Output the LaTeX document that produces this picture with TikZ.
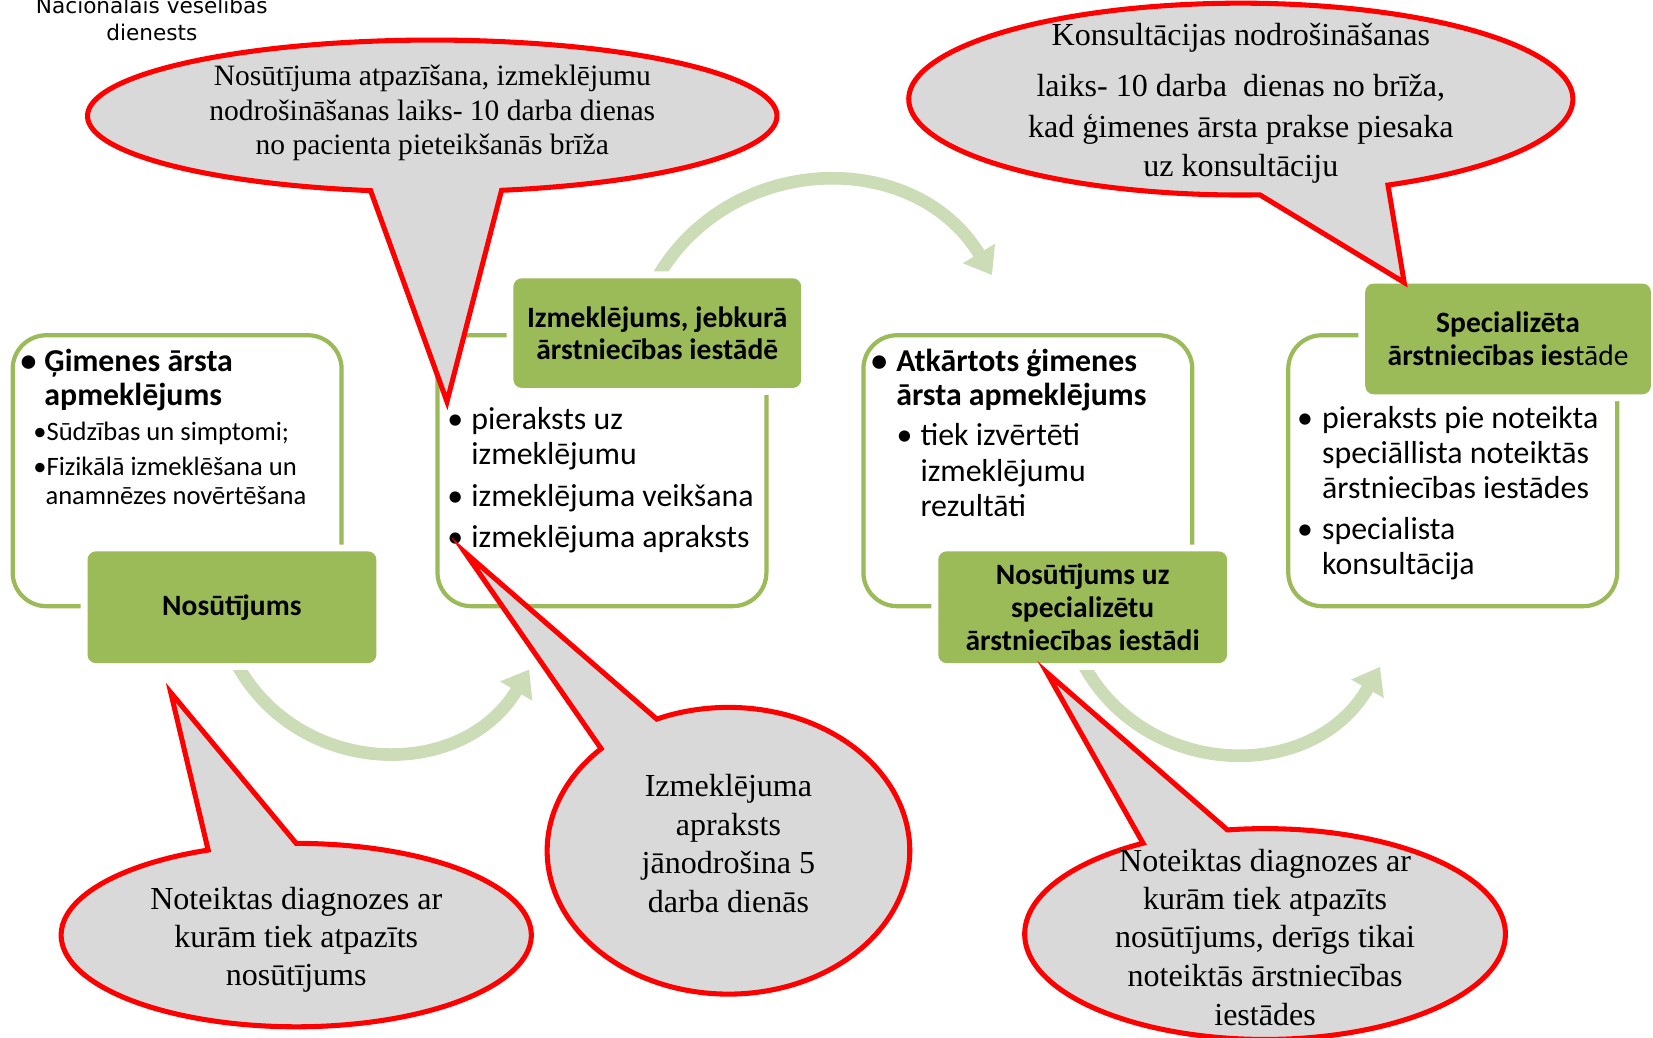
\documentclass[tikz,border=0pt]{standalone}
\usepackage{fontspec}
\setmainfont{Carlito}
\newfontfamily\serifcall{Liberation Serif}
\newfontfamily\titlefont{DejaVu Sans}
\usetikzlibrary{arrows.meta}
\definecolor{boxgreen}{RGB}{155,187,89}
\definecolor{arcgreen}{RGB}{204,220,183}
\definecolor{callgray}{RGB}{217,217,217}
\definecolor{callred}{RGB}{255,0,0}
\newcommand\fmain{\fontsize{30.2}{36}\selectfont\bfseries}
\newcommand\fbody{\fontsize{30.2}{36}\selectfont}
\newcommand\fsub{\fontsize{25.2}{30}\selectfont}
\newcommand\fgreen{\fontsize{28}{31}\selectfont\bfseries}
\newcommand\mycallout[7]{\draw[callout] (#7) -- plot[domain=#5:#6, samples=220, variable=\t] ({#1+#3*cos(\t)},{#2+#4*sin(\t)}) -- cycle;}
\begin{document}
\begin{tikzpicture}[x=1pt,y=-1pt,
  wbox/.style={draw=boxgreen, line width=4pt, fill=white, rounded corners=32pt, minimum width=312pt, minimum height=257pt, inner sep=0pt},
  gbox/.style={fill=boxgreen, rounded corners=8pt, preaction={draw=white, line width=13pt}, align=center, font=\fgreen, inner sep=0pt, minimum width=274pt, minimum height=106pt},
  txt/.style={anchor=base west, inner sep=0pt},
  bul/.style={anchor=base, inner sep=0pt},
  ctext/.style={anchor=base, inner sep=0pt},
  ttext/.style={anchor=base, inner sep=0pt, font=\titlefont\fontsize{20.5}{24}\selectfont},
  arcarrow/.style={draw=arcgreen, line width=12pt, -{Triangle[length=24pt,width=34pt]}},
  callout/.style={draw=callred, fill=callgray, line width=4.8pt, line join=miter}]
\useasboundingbox (0,0) rectangle (1568,984);

% white boxes
\node[wbox] (boxA) at (168,446.5) {};
\node[wbox] (boxB) at (571,446.5) {};
\node[wbox] (boxC) at (975,446.5) {};
\node[wbox] (boxD) at (1378,446.5) {};

% arc arrows
\coordinate (a1s) at (220,620.6);
\coordinate (a1e) at (502,635);
\coordinate (a2s) at (618.2,273);
\coordinate (a2e) at (941,261);
\coordinate (a3s) at (1023,621);
\coordinate (a3e) at (1309,632.5);
\draw[arcarrow] (a1s) .. controls +(54.2,116.2) and +(-66,109.9) .. (a1e);
\draw[arcarrow] (a2s) .. controls +(65.8,-129.2) and +(-75.1,-124) .. (a2e);
\draw[arcarrow] (a3s) .. controls +(55.3,118.5) and +(-64.6,113.7) .. (a3e);

% green boxes
\node[gbox] (gA) at (220,576) {Nosūtījums};
\node[gbox, minimum height=104pt, minimum width=273pt] (gB) at (623.5,316) {Izmeklējums, jebkurā\\ārstniecības iestādē};
\node[gbox] (gC) at (1027,576) {Nosūtījums uz\\specializētu\\ārstniecības iestādi};
\node[gbox, minimum height=105pt, minimum width=271pt] (gD) at (1430.5,321.5) {Specializēta\\ārstniecības ies{\mdseries tāde}};

% box A text
\node[bul, font=\fmain] (a0) at (27,352) {•};
\node[txt, font=\fmain] (a1) at (42,352) {Ģimenes ārsta};
\node[txt, font=\fmain] (a2) at (42,385) {apmeklējums};
\node[bul, font=\fsub] (a3b) at (38,418) {•};
\node[txt, font=\fsub] (a3) at (44,418) {Sūdzības un simptomi;};
\node[bul, font=\fsub] (a4b) at (38,451) {•};
\node[txt, font=\fsub] (a4) at (44,451) {Fizikālā izmeklēšana un};
\node[txt, font=\fsub] (a5) at (43,479) {anamnēzes novērtēšana};

% box B text
\node[bul, font=\fbody] (b1b) at (432,407) {•};
\node[txt, font=\fbody] (b1) at (447,407) {pieraksts uz};
\node[txt, font=\fbody] (b2) at (447,441) {izmeklējumu};
\node[bul, font=\fbody] (b3b) at (432,480) {•};
\node[txt, font=\fbody] (b3) at (447,480) {izmeklējuma veikšana};
\node[bul, font=\fbody] (b4b) at (432,519) {•};
\node[txt, font=\fbody] (b4) at (447,519) {izmeklējuma apraksts};

% box C text
\node[bul, font=\fmain] (c0) at (834,352) {•};
\node[txt, font=\fmain] (c1) at (850,352) {Atkārtots ģimenes};
\node[txt, font=\fmain] (c2) at (850,385) {ārsta apmeklējums};
\node[bul, font=\fbody] (c3b) at (858,423) {•};
\node[txt, font=\fbody] (c3) at (873,423) {tiek izvērtēti};
\node[txt, font=\fbody] (c4) at (873,457) {izmeklējumu};
\node[txt, font=\fbody] (c5) at (873,490) {rezultāti};

% box D text
\node[bul, font=\fbody] (d1b) at (1238,406) {•};
\node[txt, font=\fbody] (d1) at (1254,406) {pieraksts pie noteikta};
\node[txt, font=\fbody] (d2) at (1254,440) {speciāllista noteiktās};
\node[txt, font=\fbody] (d3) at (1254,473) {ārstniecības iestādes};
\node[bul, font=\fbody] (d4b) at (1238,512) {•};
\node[txt, font=\fbody] (d4) at (1254,512) {specialista};
\node[txt, font=\fbody] (d5) at (1254,545) {konsultācija};

% title
\node[ttext] (t1) at (144,13) {Nacionālais veselības};
\node[ttext] (t2) at (144,38) {dienests};

% callouts
\coordinate (tip1) at (424,381);
\coordinate (tip2) at (1332,268);
\coordinate (tip3) at (162,657);
\coordinate (tip4) at (441,524);
\coordinate (tip5) at (993,638);
\mycallout{410}{110}{327}{72}{100.3}{438.4}{tip1}
\mycallout{1177}{94}{315}{91}{86.7}{423.7}{tip2}
\mycallout{281}{887}{223}{87}{270}{608}{tip3}
\mycallout{691}{807}{172}{136}{246.7}{585.4}{tip4}
\mycallout{1200}{886}{228}{100}{261}{599.5}{tip5}

% callout texts
\begin{scope}[every node/.style={ctext, font=\serifcall\fontsize{28}{33}\selectfont}]
\node (k11) at (410,81) {Nosūtījuma atpazīšana, izmeklējumu};
\node (k12) at (410,114) {nodrošināšanas laiks- 10 darba dienas};
\node (k13) at (410,147) {no pacienta pieteikšanās brīža};
\end{scope}
\begin{scope}[every node/.style={ctext, font=\serifcall\fontsize{30.4}{36}\selectfont}]
\node (k21) at (1177,43) {Konsultācijas nodrošināšanas};
\node (k22) at (1177,92) {laiks- 10 darba~ dienas no brīža,};
\node (k23) at (1177,130) {kad ģimenes ārsta prakse piesaka};
\node (k24) at (1177,167) {uz konsultāciju};
\node (k31) at (281,863) {Noteiktas diagnozes ar};
\node (k32) at (281,899) {kurām tiek atpazīts};
\node (k33) at (281,935) {nosūtījums};
\node (k41) at (691,756) {Izmeklējuma};
\node (k42) at (691,793) {apraksts};
\node (k43) at (691,829) {jānodrošina 5};
\node (k44) at (691,866) {darba dienās};
\node (k51) at (1200,827) {Noteiktas diagnozes ar};
\node (k52) at (1200,863) {kurām tiek atpazīts};
\node (k53) at (1200,899) {nosūtījums, derīgs tikai};
\node (k54) at (1200,936) {noteiktās ārstniecības};
\node (k55) at (1200,973) {iestādes};
\end{scope}
\end{tikzpicture}
\end{document}
